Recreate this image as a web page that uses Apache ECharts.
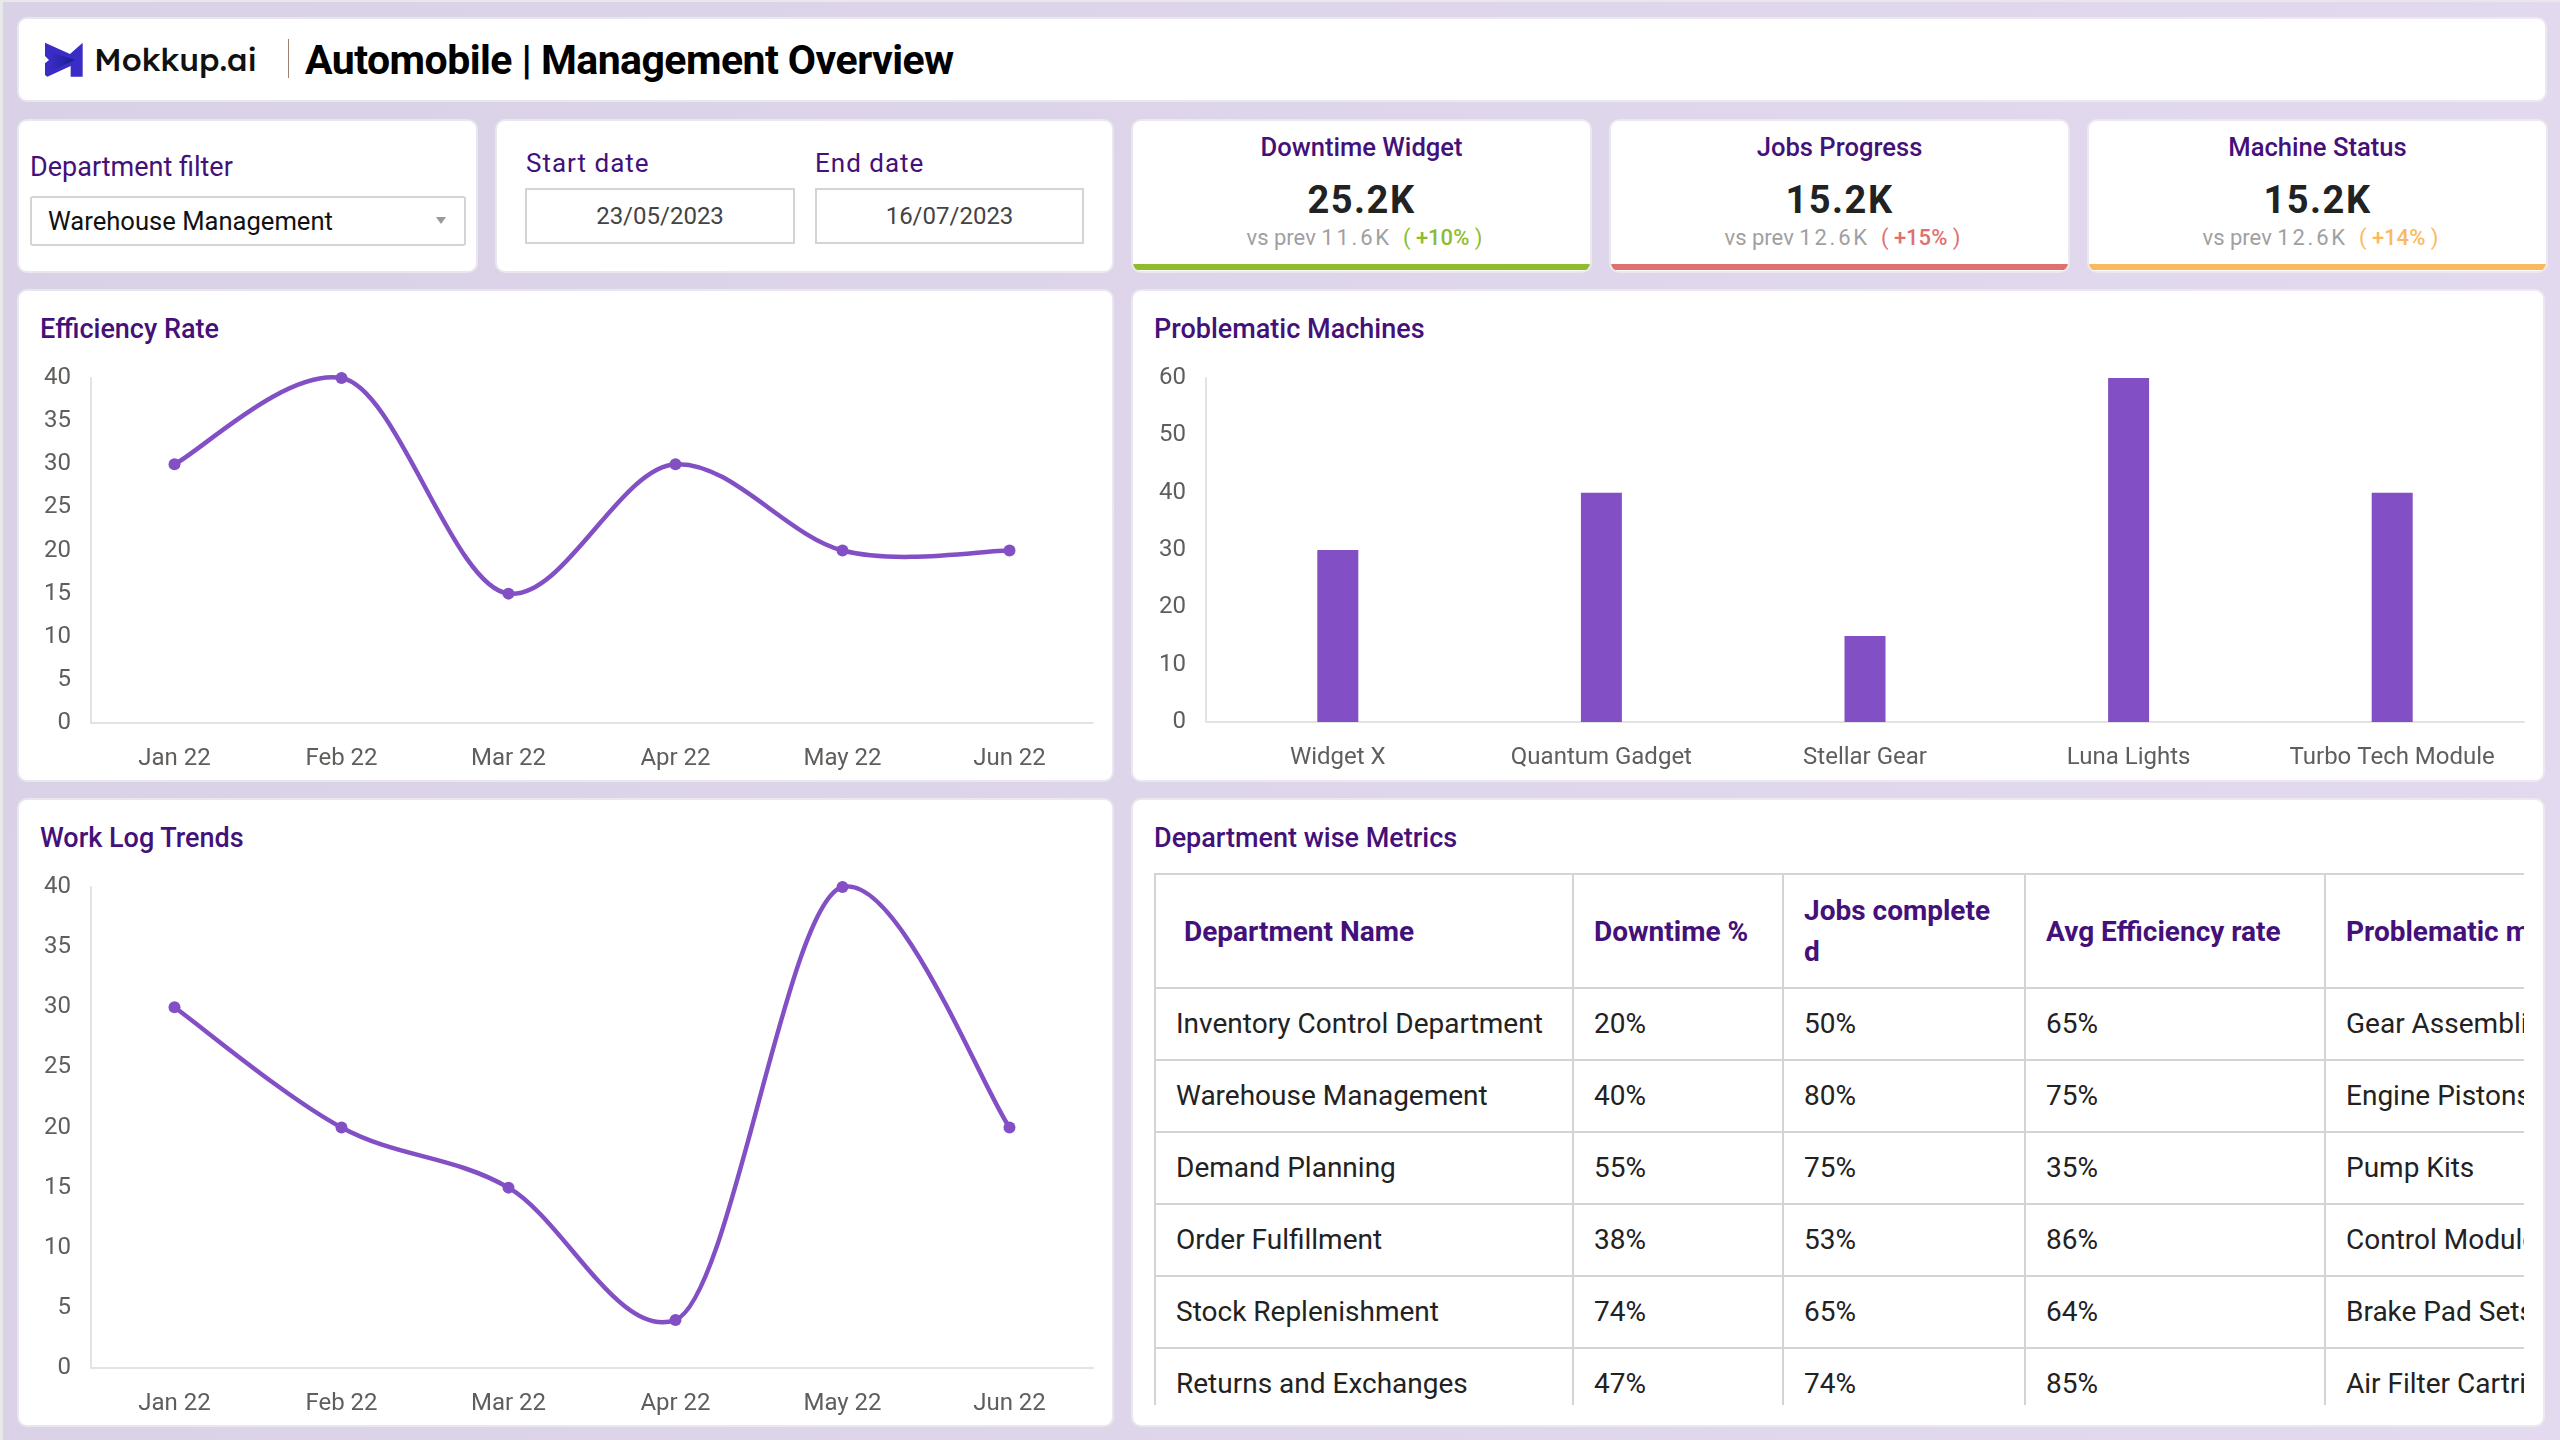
<!DOCTYPE html>
<html><head><meta charset="utf-8">
<script src="https://cdn.jsdelivr.net/npm/echarts@6/dist/echarts.min.js"></script>
<style>
html,body{margin:0;padding:0;width:2560px;height:1440px;overflow:hidden;font-family:Roboto,sans-serif}
#bg{position:absolute;left:3px;top:2px;width:2557px;height:1438px;background:linear-gradient(100deg,#d9d1e5,#e3daf0)}
body{background:#e8e8e8}
.card{position:absolute;background:#fff;border-radius:8px;box-shadow:0 0 0 2px rgba(240,240,240,.7)}
.t{position:absolute;white-space:nowrap;line-height:1}
.title{font-size:27px;font-weight:500;color:#44107a}
.center{text-align:center}
.box{position:absolute;box-sizing:border-box;border:2px solid #d4d4d4;background:#fff}
.chart{position:absolute}
#tbl{position:absolute;left:0;top:0;border-collapse:collapse;table-layout:fixed;width:1571px;font-size:28px;color:#222}
#tbl td,#tbl th{border:2px solid #d4d4d4;padding:0 0 0 20px;text-align:left;box-sizing:border-box;overflow:hidden;height:72px;line-height:41px}
#tbl th{height:114px;color:#44107a;font-weight:700;font-size:28px;white-space:normal;word-break:break-all;padding-right:24px}
#tbl td{white-space:nowrap;padding-bottom:2px}
</style></head><body>
<div id="bg"></div>
<div id="root"></div>
<script>
const months = ["Jan 22","Feb 22","Mar 22","Apr 22","May 22","Jun 22"];
const efficiencyValues = [30,40,15,30,20,20];
const workLogValues = [30,20,15,4,40,20];
const machineNames = ["Widget X","Quantum Gadget","Stellar Gear","Luna Lights","Turbo Tech Module"];
const machineValues = [30,40,15,60,40];
const tableHeaders = ["Department Name","Downtime %","Jobs completed","Avg Efficiency rate","Problematic machines"];
const departments = ["Inventory Control Department","Warehouse Management","Demand Planning","Order Fulfillment","Stock Replenishment","Returns and Exchanges"];
const downtimePct = ["20%","40%","55%","38%","74%","47%"];
const jobsPct = ["50%","80%","75%","53%","65%","74%"];
const efficiencyPct = ["65%","75%","35%","86%","64%","85%"];
const problemMachines = ["Gear Assemblies","Engine Pistons","Pump Kits","Control Modules","Brake Pad Sets","Air Filter Cartridges"];
const kpiNames = ["Downtime Widget","Jobs Progress","Machine Status"];
const kpiValues = ["25.2K","15.2K","15.2K"];
const kpiPrev = ["11.6K","12.6K","12.6K"];
const kpiDelta = ["+10%","+15%","+14%"];
const kpiColors = ["#8fbc2f","#e07070","#fbb95f"];
const root=document.getElementById('root');
function el(cls,css,html,parent){const d=document.createElement('div');d.className=cls;d.style.cssText=css;if(html!==undefined)d.innerHTML=html;(parent||root).appendChild(d);return d;}
function card(x,y,w,h){return el('card',`left:${x}px;top:${y}px;width:${w}px;height:${h}px`);}
function text(x,y,s,css){return el('t',`left:${x}px;top:${y}px;${css||''}`,s);}
// header
card(19,19,2526,81);
root.insertAdjacentHTML('beforeend','<svg style="position:absolute;left:30px;top:30px" width="80" height="60" viewBox="0 0 240 180"><defs><linearGradient id="lg" x1="0" y1="0" x2="1" y2="0"><stop offset="0" stop-color="#3b2bc8"/><stop offset="1" stop-color="#14208a"/></linearGradient></defs><path d="M45 38 L120 72 L158 38 L158 140 L122 140 L122 108 L52 140 L45 135 L45 100 L57 90 L45 78 Z" fill="#3a2cc6"/><path d="M60 66 L135 90 L60 124 Z" fill="url(#lg)"/></svg>');
text(94,43,'Mokkup.ai','font-family:Lexend,Inter,sans-serif;font-size:32px;font-weight:500;color:#111');
el('t','left:288px;top:39px;width:1px;height:39px;background:#a08070');
text(305,40,'Automobile | Management Overview','font-size:41px;font-weight:700;color:#000;letter-spacing:-.55px');
// filters
card(19,121,457,150);
text(30,154,'Department filter','font-size:27px;color:#44107a');
el('box','left:30px;top:196px;width:436px;height:50px;border-radius:3px');
text(48,209,'Warehouse Management','font-size:25.6px;color:#111');
el('t','left:436px;top:217px;width:0;height:0;border-left:5px solid transparent;border-right:5px solid transparent;border-top:7px solid #999');
card(497,121,615,150);
text(526,150,'Start date','font-size:26px;color:#44107a;letter-spacing:1px');
text(815,150,'End date','font-size:26px;color:#44107a;letter-spacing:1px');
el('box','left:525px;top:188px;width:270px;height:56px');
el('box','left:815px;top:188px;width:269px;height:56px');
el('t center','left:525px;top:204px;width:270px;font-size:24px;color:#444','23/05/2023');
el('t center','left:815px;top:204px;width:269px;font-size:24px;color:#444','16/07/2023');
// kpis
const kx=[1133,1611,2089];
kpiNames.forEach((name,i)=>{const x=kx[i],w=457,col=kpiColors[i];
 const c=card(x,121,w,150);c.style.overflow='hidden';
 el('t center',`left:0;top:14px;width:${w}px;font-size:25.6px;font-weight:500;color:#44107a`,name,c);
 el('t center',`left:0;top:60px;width:${w}px;font-size:38px;font-weight:700;color:#222;letter-spacing:1.5px`,kpiValues[i],c);
 el('t center',`left:3px;top:106px;width:${w}px;font-size:22px;color:#a0a0a0`,`vs prev <span style="letter-spacing:2.8px">${kpiPrev[i]}</span> <span style="color:${col}">&nbsp;(<span style="font-weight:500"> ${kpiDelta[i]}</span> )</span>`,c);
 el('t',`left:0;top:143px;width:${w}px;height:6px;background:${col}`,'',c);
});
// chart cards
card(19,291,1093,489);
card(1133,291,1410,489);
card(19,800,1093,625);
card(1133,800,1410,625);
text(40,316,'Efficiency Rate').className='t title';
text(1154,316,'Problematic Machines').className='t title';
text(40,825,'Work Log Trends').className='t title';
text(1154,825,'Department wise Metrics').className='t title';
// table
const rows=departments.map((d,i)=>[d,downtimePct[i],jobsPct[i],efficiencyPct[i],problemMachines[i]]);
const colW=[418,210,242,300,401];
let h='<table id="tbl"><colgroup>'+colW.map(w=>`<col style="width:${w}px">`).join('')+'</colgroup><thead><tr>'+tableHeaders.map((t,i)=>`<th${i==0?' style="padding-left:28px"':''}>${t}</th>`).join('')+'</tr></thead><tbody>'+rows.map(r=>'<tr>'+r.map(c=>`<td>${c}</td>`).join('')+'</tr>').join('')+'</tbody></table>';
el('','position:absolute;left:1154px;top:873px;width:1370px;height:532px;overflow:hidden',h);
// charts
const PURPLE='#8250c4',AX='#605e5c',LINE='#e3e3e3';
function mk(x,y,w,h,opt){const d=el('chart',`left:${x}px;top:${y}px;width:${w}px;height:${h}px`);echarts.init(d,null,{renderer:'canvas'}).setOption(opt);}
function base(cats,max,step,grid,xm){return{animation:false,grid,
 xAxis:{type:'category',data:cats,axisLine:{show:true,lineStyle:{color:LINE,width:2}},axisTick:{show:false},axisLabel:{color:AX,fontSize:24,fontFamily:'Roboto',margin:xm,interval:0},splitLine:{show:false}},
 yAxis:{type:'value',min:0,max,interval:step,axisLine:{show:true,lineStyle:{color:LINE,width:2}},axisTick:{show:false},axisLabel:{color:AX,fontSize:24,fontFamily:'Roboto',margin:20},splitLine:{show:false}}};}
// Curve through the data points with tangents along the neighbouring points; tangents are shortened at local extremes.
function splineItem(vals){
 const n=vals.length,at=k=>Math.max(0,Math.min(n-1,k));
 const div=k=>{const a=vals[at(k-1)],b=vals[at(k)],c=vals[at(k+1)];return ((b>a&&b>c)||(b<a&&b<c))?14:6;};
 return function(params,api){
  const i=params.dataIndex; if(i>=n-1) return null;
  const P=k=>api.coord([at(k),vals[at(k)]]);
  const p0=P(i-1),p1=P(i),p2=P(i+1),p3=P(i+2),T1=div(i),T2=div(i+1);
  return {type:'bezierCurve',
    shape:{x1:p1[0],y1:p1[1],x2:p2[0],y2:p2[1],cpx1:p1[0]+(p2[0]-p0[0])/6,cpy1:p1[1]+(p2[1]-p0[1])/T1,cpx2:p2[0]-(p3[0]-p1[0])/6,cpy2:p2[1]-(p3[1]-p1[1])/T2},
    style:{fill:null,stroke:PURPLE,lineWidth:4.5}};
 };}
function lineChart(x,y,w,h,vals,top,bot,xm){
 const o=base(months,40,5,{left:72,right:w-1074,top,bottom:h-bot},xm);
 o.series=[
  {type:'custom',coordinateSystem:'cartesian2d',data:vals.map((v,i)=>[i,v]),encode:{x:0,y:1},renderItem:splineItem(vals),z:2},
  {type:'line',data:vals,symbol:'circle',symbolSize:12,lineStyle:{width:0,opacity:0},itemStyle:{color:PURPLE},z:3}];
 mk(x,y,w,h,o);}
lineChart(19,291,1093,489,efficiencyValues,87,432,24);
lineChart(19,800,1093,625,workLogValues,87,568,24);
const bo=base(machineNames,60,10,{left:73,right:19,top:87,bottom:58},24);
bo.series=[{type:'bar',data:machineValues,barWidth:41,itemStyle:{color:PURPLE}}];
mk(1133,291,1410,489,bo);
</script></body></html>
